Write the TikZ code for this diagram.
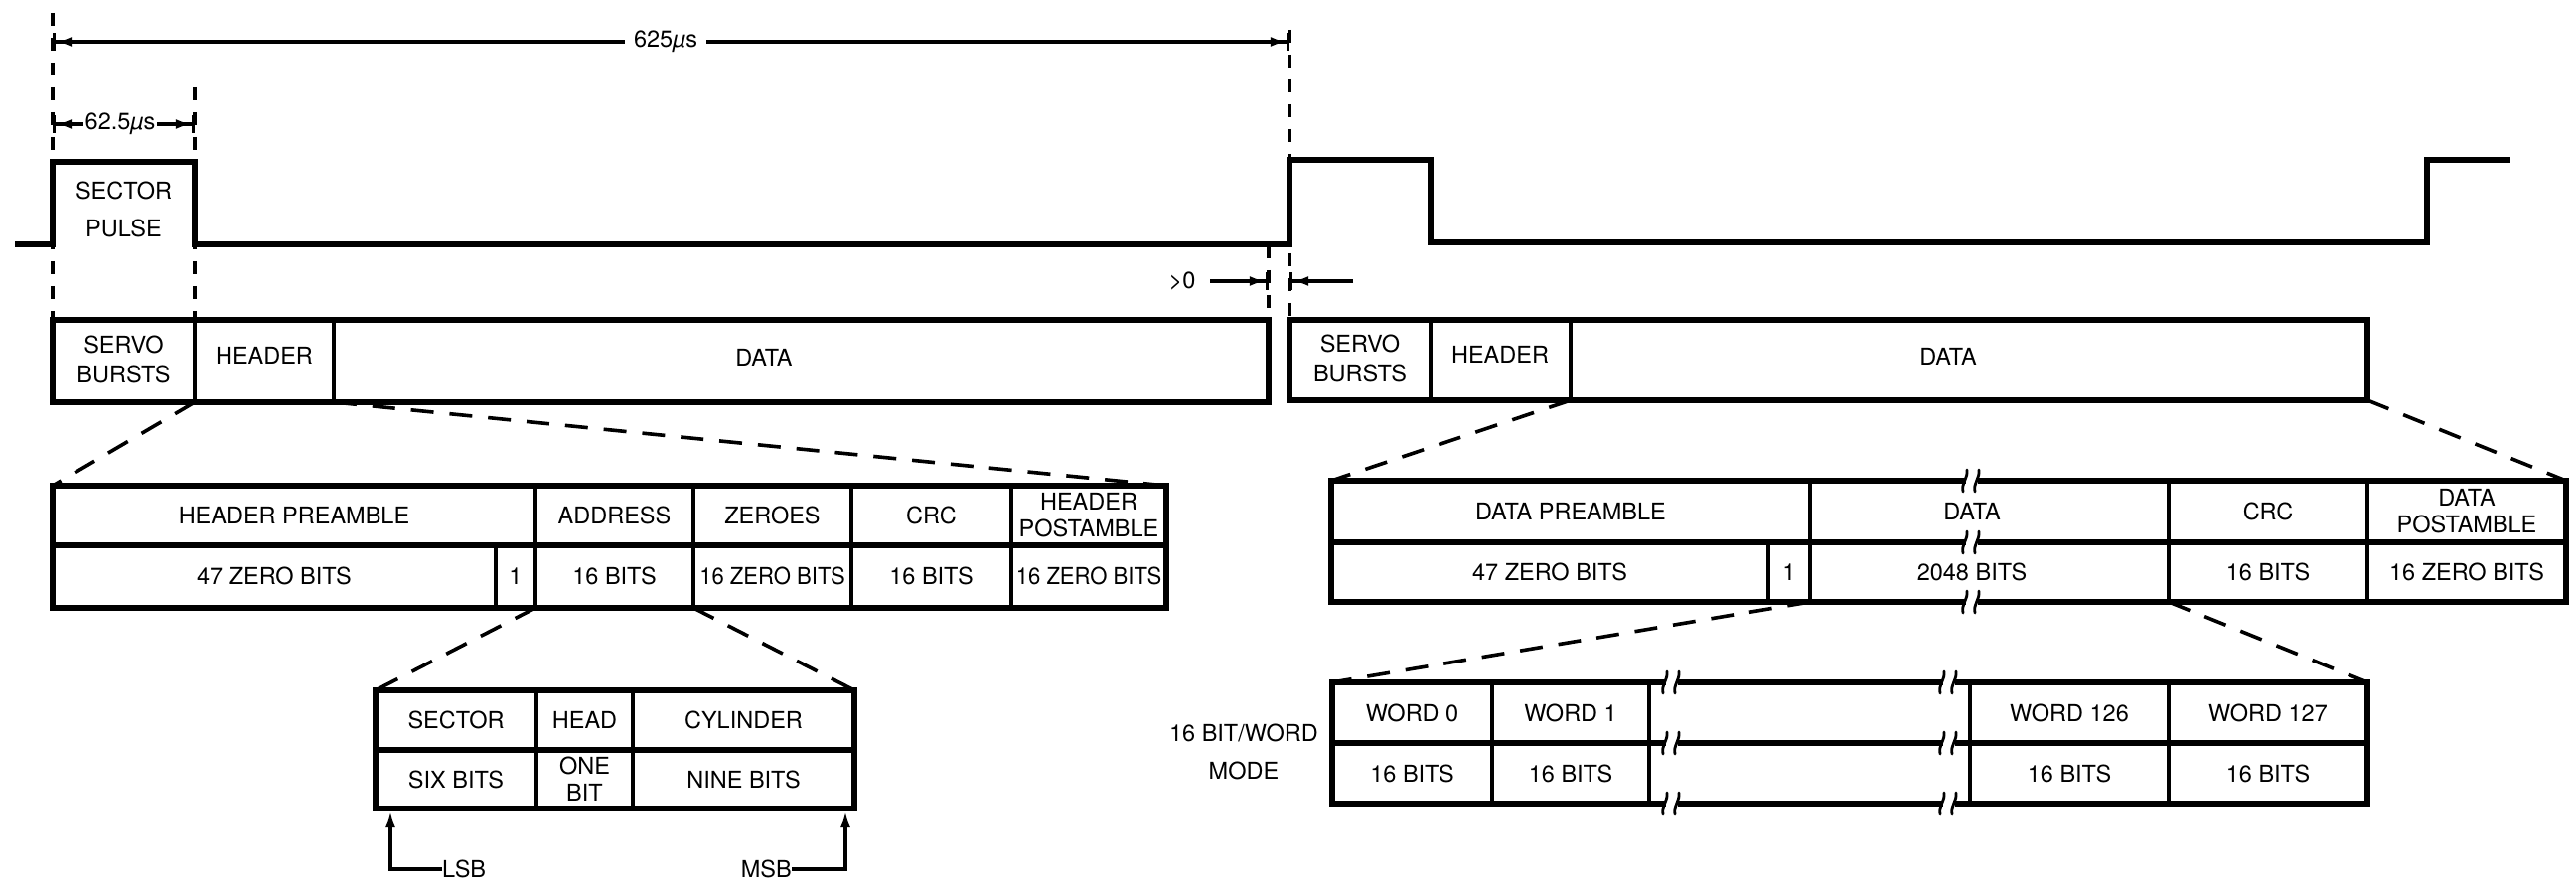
\documentclass[tikz,border=0pt]{standalone}
\usepackage{fontspec}
\setmainfont{TeX Gyre Heros}
\usetikzlibrary{arrows.meta}
\begin{document}
\begin{tikzpicture}[x=1pt,y=-1pt,
  txt/.style={font=\fontsize{23.5}{27}\selectfont, inner sep=0pt, align=center},
  lsk/.style={font=\fontsize{23.5}{#1}\selectfont},
  border/.style={line width=5.5pt, line join=miter},
  divider/.style={line width=3.2pt},
  guide/.style={line width=3.4pt, dash pattern=on 13pt off 12pt},
  zoomline/.style={line width=3.6pt, dash pattern=on 23pt off 16pt},
  pulse/.style={line width=5.2pt, line join=miter},
  dimarrow/.style={line width=3.2pt, -{Latex[length=16pt,width=10pt]Bar[width=18pt,line width=3.2pt]}},
  tiparrow/.style={line width=3.2pt, -{Latex[length=16pt,width=10pt]}},
  brk/.pic={
    \fill[white] (-6,-5) rectangle (6,5);
    \draw[line width=2.8pt,line cap=round] (-9,11) .. controls (-11,2) and (-4,-2) .. (-5,-11);
    \draw[line width=2.8pt,line cap=round] (3,11) .. controls (1,2) and (8,-2) .. (7,-11);
  }
]
\useasboundingbox (0,0) rectangle (2593,890);

% ---------- vertical guide lines ----------
\coordinate (gA1) at (53,13);   \coordinate (gA2) at (53,322);
\coordinate (gB1) at (196,88);  \coordinate (gB2) at (196,322);
\coordinate (gC1) at (1298,30); \coordinate (gC2) at (1298,322);
\coordinate (gD1) at (1277,247);\coordinate (gD2) at (1277,322);
\draw[guide] (gA1) -- (gA2);
\draw[guide] (gB1) -- (gB2);
\draw[guide] (gC1) -- (gC2);
\draw[guide] (gD1) -- (gD2);

% ---------- dimensions ----------
\coordinate (dimL) at (53,42); \coordinate (dimR) at (1298,42);
\node[txt, inner xsep=9pt] (d625) at (670,42) {625\textit{µ}s};
\draw[dimarrow] (d625.west) -- (dimL);
\draw[dimarrow] (d625.east) -- (dimR);

\coordinate (smL) at (53,125); \coordinate (smR) at (196,125);
\node[txt, inner xsep=2pt] (d62) at (121,125) {62.5\textit{µ}s};
\draw[dimarrow] (d62.west) -- (smL);
\draw[dimarrow] (d62.east) -- (smR);

\node[txt] (gt0) at (1190,283) {>0};
\coordinate (gtA) at (1218,283); \coordinate (gtB) at (1277,283);
\coordinate (gtC) at (1362,283); \coordinate (gtD) at (1298,283);
\draw[dimarrow] (gtA) -- (gtB);
\draw[dimarrow] (gtC) -- (gtD);

% ---------- pulse waveform ----------
\draw[pulse] (15,246) -- (53,246) -- (53,163) -- (196,163) -- (196,246)
  -- (1298,246) -- (1298,161) -- (1440,161) -- (1440,244) -- (2443,244)
  -- (2443,161) -- (2527,161);
\node[txt, lsk=38] (secpulse) at (124.5,211) {SECTOR\\PULSE};

% ---------- sector frame 1 ----------
\draw[border] (53,322) rectangle (1277,405);
\draw[divider] (196,322) -- (196,405);
\draw[divider] (336,322) -- (336,405);
\node[txt, lsk=30] (sb1) at (124.5,362) {SERVO\\BURSTS};
\node[txt] (hd1) at (266,358) {HEADER};
\node[txt] (da1) at (769,360) {DATA};

% ---------- sector frame 2 ----------
\draw[border] (1298,322) rectangle (2383,403);
\draw[divider] (1440,322) -- (1440,403);
\draw[divider] (1581,322) -- (1581,403);
\node[txt, lsk=30] (sb2) at (1369,361) {SERVO\\BURSTS};
\node[txt] (hd2) at (1510,357) {HEADER};
\node[txt] (da2) at (1961,359) {DATA};

% ---------- header table ----------
\draw[border] (53,489) rectangle (1174,612);
\draw[border] (53,549) -- (1174,549);
\foreach \x in {539,698,857,1018} \draw[divider] (\x,489) -- (\x,612);
\draw[divider] (499,549) -- (499,612);
\node[txt] (hpre) at (296,519) {HEADER PREAMBLE};
\node[txt] (hadr) at (618.5,519) {ADDRESS};
\node[txt] (hzer) at (777.5,519) {ZEROES};
\node[txt] (hcrc) at (937.5,519) {CRC};
\node[txt] (hpost) at (1096,519) {HEADER\\POSTAMBLE};
\node[txt] (h47) at (276,580) {47 ZERO BITS};
\node[txt] (hone) at (519,580) {1};
\node[txt] (h16a) at (618.5,580) {16 BITS};
\node[txt] (h16z) at (777.5,580) {\scalebox{0.94}[1]{16 ZERO BITS}};
\node[txt] (h16b) at (937.5,580) {16 BITS};
\node[txt] (h16y) at (1096,580) {\scalebox{0.94}[1]{16 ZERO BITS}};

\coordinate (hb1) at (196,405); \coordinate (hb2) at (336,405);
\coordinate (ht1) at (53,489);  \coordinate (ht2) at (1174,489);
\draw[zoomline] (hb1) -- (ht1);
\draw[zoomline] (hb2) -- (ht2);

% ---------- address table ----------
\draw[border] (378,695) rectangle (860,814);
\draw[border] (378,755) -- (860,755);
\draw[divider] (540,695) -- (540,814);
\draw[divider] (637,695) -- (637,814);
\node[txt] (asec) at (459,725) {SECTOR};
\node[txt] (ahead) at (588.5,725) {HEAD};
\node[txt] (acyl) at (748.5,725) {CYLINDER};
\node[txt] (asix) at (459,784.5) {SIX BITS};
\node[txt] (aone) at (588.5,784.5) {ONE\\BIT};
\node[txt] (anine) at (748.5,784.5) {NINE BITS};

\coordinate (ab1) at (539,612); \coordinate (ab2) at (698,612);
\coordinate (at1) at (378,695); \coordinate (at2) at (860,695);
\draw[zoomline] (ab1) -- (at1);
\draw[zoomline] (ab2) -- (at2);

\node[txt, anchor=west] (lsb) at (445,875) {LSB};
\coordinate (lsbK) at (393,875); \coordinate (lsbT) at (393,817);
\draw[tiparrow] (lsb.west) -- (lsbK) -- (lsbT);
\node[txt, anchor=east] (msb) at (797,875) {MSB};
\coordinate (msbK) at (851,875); \coordinate (msbT) at (851,817);
\draw[tiparrow] (msb.east) -- (msbK) -- (msbT);

% ---------- data table ----------
\draw[border] (1340,484) rectangle (2583,606);
\draw[border] (1340,546) -- (2583,546);
\foreach \x in {1822,2183,2383} \draw[divider] (\x,484) -- (\x,606);
\draw[divider] (1780,546) -- (1780,606);
\foreach \y in {484,546,606} \pic at (1985,\y) {brk};
\node[txt] (dpre) at (1581,515) {DATA PREAMBLE};
\node[txt] (ddat) at (1985,515) {DATA};
\node[txt] (dcrc) at (2283,515) {CRC};
\node[txt] (dpost) at (2483,515) {DATA\\POSTAMBLE};
\node[txt] (d47) at (1560,576) {47 ZERO BITS};
\node[txt] (done) at (1801,576) {1};
\node[txt] (d2048) at (1985,576) {2048 BITS};
\node[txt] (d16a) at (2283,576) {16 BITS};
\node[txt] (d16z) at (2483,576) {16 ZERO BITS};

\coordinate (db1) at (1581,403); \coordinate (db2) at (2383,403);
\coordinate (dt1) at (1340,484); \coordinate (dt2) at (2583,484);
\draw[zoomline] (db1) -- (dt1);
\draw[zoomline] (db2) -- (dt2);

% ---------- word table ----------
\draw[border] (1341,687) rectangle (2383,809);
\draw[border] (1341,748) -- (2383,748);
\foreach \x in {1502,1660,1983,2183} \draw[divider] (\x,687) -- (\x,809);
\foreach \y in {687,748,809} {\pic at (1683,\y) {brk}; \pic at (1962,\y) {brk};}
\node[txt] (w0) at (1421.5,717.5) {WORD 0};
\node[txt] (w1) at (1581,717.5) {WORD 1};
\node[txt] (w126) at (2083,717.5) {WORD 126};
\node[txt] (w127) at (2283,717.5) {WORD 127};
\node[txt] (b0) at (1421.5,778.5) {16 BITS};
\node[txt] (b1) at (1581,778.5) {16 BITS};
\node[txt] (b126) at (2083,778.5) {16 BITS};
\node[txt] (b127) at (2283,778.5) {16 BITS};
\node[txt, lsk=38, anchor=east] (mode) at (1327,757) {16 BIT/WORD\\MODE};

\coordinate (wb1) at (1822,606); \coordinate (wb2) at (2183,606);
\coordinate (wt1) at (1341,687); \coordinate (wt2) at (2383,687);
\draw[zoomline] (wb1) -- (wt1);
\draw[zoomline] (wb2) -- (wt2);
\end{tikzpicture}
\end{document}
